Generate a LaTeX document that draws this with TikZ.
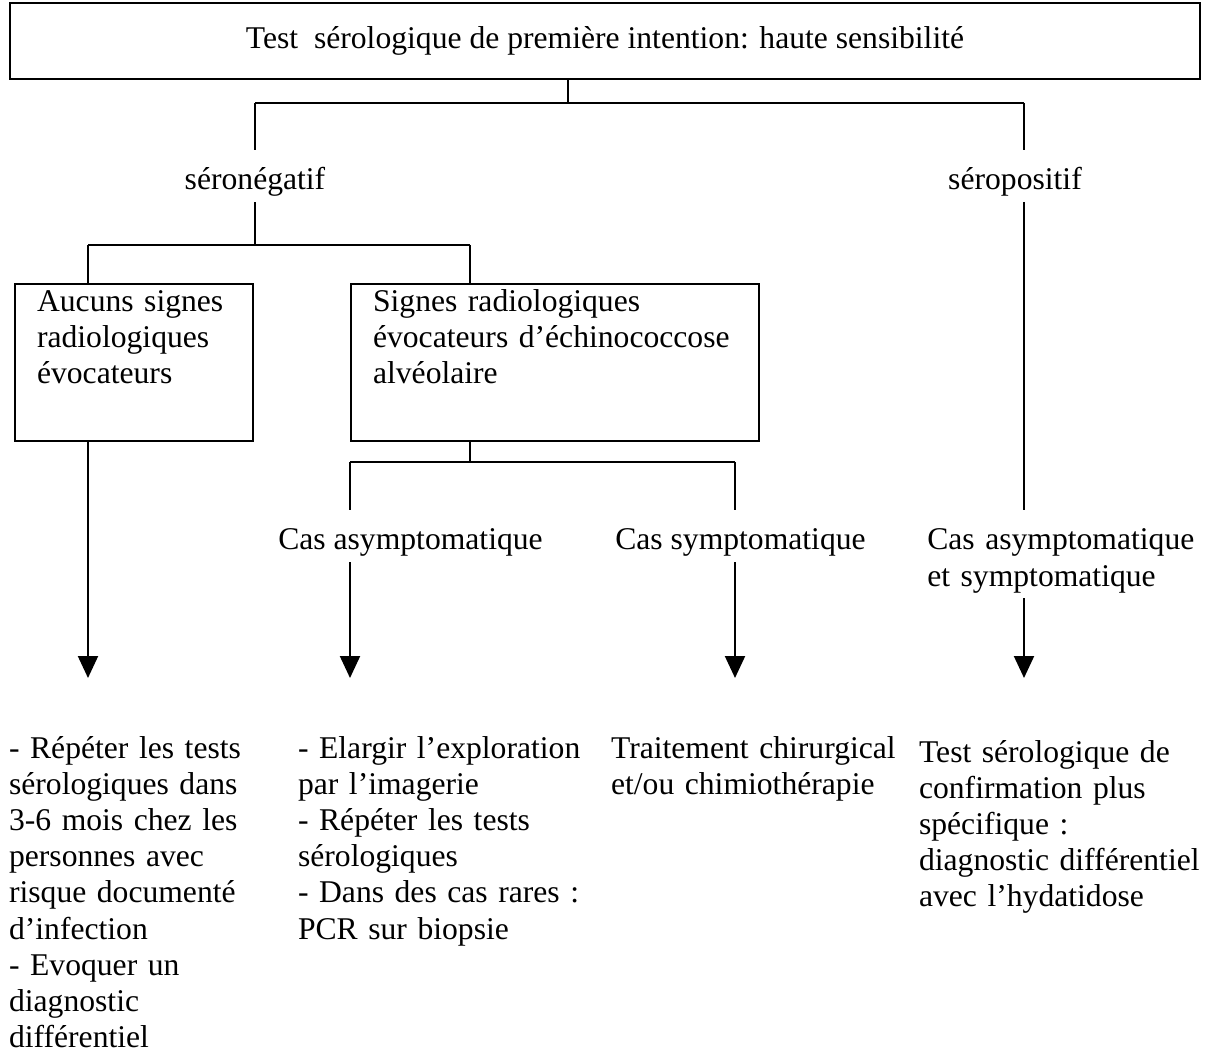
\documentclass[tikz,border=0pt]{standalone}
\usepackage{fontspec}
\setmainfont{Liberation Serif}
\usetikzlibrary{arrows.meta}

\tikzset{
  box/.style={draw, align=left, anchor=north west, inner ysep=0pt, inner xsep=0.22cm,
    text height=0.27cm, text depth=1.30cm},
  lbl/.style={inner sep=1.2pt, text height=10pt, anchor=base},
  txt/.style={inner sep=0pt, align=left, anchor=base west},
  arr/.style={-{Triangle[length=0.22cm,width=0.2cm]}},
}

\begin{document}
\begin{tikzpicture}[line width=0.6pt, font=\fontsize{9}{10.3}\selectfont]
\useasboundingbox (0,0) rectangle (12.10,-10.63);

\node[draw, minimum width=11.90cm, minimum height=0.76cm, inner sep=0pt] (test) at (6.05,-0.41)
  {Test\ \ sérologique de première intention: haute sensibilité};

\coordinate (split) at (5.68,-1.03);
\coordinate (negtop) at (2.55,-1.03);
\coordinate (postop) at (10.24,-1.03);
\draw (test.south -| split) -- (split);
\draw (negtop) -- (postop);

\node[lbl] (neg) at (2.55,-1.90) {séronégatif};
\node[lbl] (pos) at (10.15,-1.90) {séropositif};
\draw (negtop) -- (neg);
\draw (postop) -- (postop |- pos.north);

% seronegatif
\coordinate (negsplit) at (2.55,-2.45);
\coordinate (asplit) at (0.88,-2.45);
\coordinate (bsplit) at (4.70,-2.45);
\draw (neg) -- (negsplit);
\draw (asplit) -- (bsplit);

\node[box, text width=1.94cm] (aucuns) at (0.14,-2.83) {Aucuns signes\\radiologiques\\évocateurs};
\node[box, text width=3.64cm] (signes) at (3.50,-2.83) {Signes radiologiques\\évocateurs d'échinococcose\\alvéolaire};
\draw (asplit) -- (asplit |- aucuns.north);
\draw (bsplit) -- (bsplit |- signes.north);

\coordinate (aend) at (0.88,-6.78);
\draw[arr] (aucuns.south -| aend) -- (aend);

\coordinate (ssplit) at (4.70,-4.62);
\coordinate (casl) at (3.50,-4.62);
\coordinate (casr) at (7.35,-4.62);
\draw (signes.south -| ssplit) -- (ssplit);
\draw (casl) -- (casr);

\node[lbl, anchor=base west] (asym) at (2.73,-5.50) {Cas asymptomatique};
\node[lbl, anchor=base west] (sym) at (6.10,-5.50) {Cas symptomatique};
\node[lbl, anchor=base west, align=left, text width=2.8cm] (both) at (9.22,-5.50) {Cas asymptomatique\\et symptomatique};
\draw (casl) -- (casl |- asym.north);
\draw (casr) -- (casr |- sym.north);
\draw (postop |- pos.south) -- (postop |- both.north);

\draw[arr] (casl |- asym.south) -- (casl |- aend);
\draw[arr] (casr |- sym.south) -- (casr |- aend);
\draw[arr] (postop |- both.south) -- (postop |- aend);

% conclusions
\node[txt, text width=2.8cm] (suivi) at (0.08,-7.58) {- Répéter les tests\\sérologiques dans\\3-6 mois chez les\\personnes avec\\risque documenté\\d'infection\\- Evoquer un\\diagnostic\\différentiel};
\node[txt, text width=3.1cm] (imagerie) at (2.97,-7.58) {- Elargir l'exploration\\par l'imagerie\\- Répéter les tests\\sérologiques\\- Dans des cas rares :\\PCR sur biopsie};
\node[txt, text width=3.0cm] (traitement) at (6.10,-7.58) {Traitement chirurgical\\et/ou chimiothérapie};
\node[txt, text width=2.9cm] (confirmation) at (9.18,-7.62) {Test sérologique de\\confirmation plus\\spécifique :\\diagnostic différentiel\\avec l'hydatidose};
\end{tikzpicture}
\end{document}
